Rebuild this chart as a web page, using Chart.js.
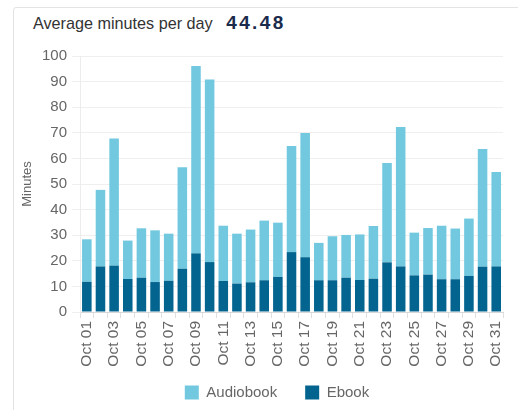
<!DOCTYPE html>
<html>
<head>
<meta charset="utf-8">
<script src="https://cdn.jsdelivr.net/npm/chart.js@4/dist/chart.umd.min.js"></script>
<style>
  html, body { margin: 0; padding: 0; background: #fff; }
  #wrap { position: relative; width: 518px; height: 410px; overflow: hidden; }
  #card { position: absolute; left: 13px; top: 7px; width: 520px; height: 420px;
    border: 1px solid #e3e3e3; border-radius: 3px; }
  #title { position: absolute; left: 33px; top: 12px; font-family: 'Liberation Sans', Arial, sans-serif;
    font-size: 16.2px; color: #333; white-space: nowrap; }
  #avg { font-family: 'Liberation Sans', Arial, sans-serif; font-weight: bold; font-size: 19px;
    letter-spacing: 2.4px; color: #1b2b4b; margin-left: 9px; }
  canvas { position: absolute; left: 0; top: 0; }
</style>
</head>
<body>
<div id="wrap">
  <div id="card"></div>
  <div id="title">Average minutes per day <span id="avg">44.48</span></div>
  <canvas id="myChart" width="518" height="410"></canvas>
</div>
<script>
'use strict';

// Data
let days = ['Oct 01', 'Oct 02', 'Oct 03', 'Oct 04', 'Oct 05', 'Oct 06', 'Oct 07', 'Oct 08',
  'Oct 09', 'Oct 10', 'Oct 11', 'Oct 12', 'Oct 13', 'Oct 14', 'Oct 15', 'Oct 16',
  'Oct 17', 'Oct 18', 'Oct 19', 'Oct 20', 'Oct 21', 'Oct 22', 'Oct 23', 'Oct 24',
  'Oct 25', 'Oct 26', 'Oct 27', 'Oct 28', 'Oct 29', 'Oct 30', 'Oct 31'];
let ebookMinutes = [11.8, 17.8, 18.1, 12.9, 13.4, 11.7, 12.2, 16.9, 22.9, 19.5, 12.1, 11.1,
  11.6, 12.4, 13.7, 23.4, 21.4, 12.4, 12.4, 13.4, 12.5, 13.0, 19.4, 17.8, 14.3, 14.6,
  12.8, 12.8, 14.1, 17.7, 17.8];
let audiobookMinutes = [16.6, 29.9, 49.7, 15.0, 19.3, 20.2, 18.4, 39.6, 73.2, 71.3, 21.6, 19.5,
  20.6, 23.3, 21.2, 41.4, 48.5, 14.6, 17.2, 16.7, 17.8, 20.6, 38.8, 54.5, 16.7, 18.2,
  20.9, 19.8, 22.4, 46.0, 36.9];
let yTicks = [0, 10, 20, 30, 40, 50, 60, 70, 80, 90, 100];

let audioColor = '#72c9df';
let ebookColor = '#03648f';
let fontFamily = "'Liberation Sans', Arial, sans-serif";

// move the legend right and up a bit, like the original
let legendShift = {
  id: 'legendShift',
  afterLayout(chart) {
    let lg = chart.legend;
    if (lg) {
      lg.left += 17;
      lg.right += 17;
      lg.top -= 19;
      lg.bottom -= 19;
    }
  }
};

function chart() {
  let ctx = document.getElementById('myChart');
  // eslint-disable-next-line no-undef
  let myChart = new Chart(ctx, {
    type: 'bar',
    data: {
      labels: days,
      datasets: [{
        label: 'Ebook',
        data: ebookMinutes,
        backgroundColor: ebookColor,
        borderWidth: 0
      }, {
        label: 'Audiobook',
        data: audiobookMinutes,
        backgroundColor: audioColor,
        borderWidth: 0
      }]
    },
    options: {
      responsive: false,
      animation: false,
      layout: { padding: { left: 14, right: 12, top: 56, bottom: -19 } },
      datasets: { bar: { categoryPercentage: 1, barPercentage: 0.7 } },
      plugins: {
        tooltip: { enabled: false },
        legend: {
          position: 'bottom',
          reverse: true,
          labels: {
            boxWidth: 14,
            boxHeight: 14,
            padding: 28,
            color: '#666',
            font: { family: fontFamily, size: 15 }
          }
        }
      },
      scales: {
        x: {
          stacked: true,
          afterFit(scale) { scale.height = 64; },
          border: { color: '#d8d8d8' },
          grid: { offset: true, drawOnChartArea: false, tickLength: 6, color: '#e0e0e0' },
          ticks: {
            autoSkip: false,
            maxRotation: 90,
            minRotation: 90,
            padding: 3,
            color: '#666',
            font: { family: fontFamily, size: 15.5 },
            callback(value, index) {
              return index % 2 === 0 ? days[index] : '';
            }
          }
        },
        y: {
          stacked: true,
          min: 0,
          max: 100,
          afterFit(scale) { scale.width = 66; },
          afterBuildTicks(scale) {
            scale.ticks = yTicks.map(v => ({ value: v }));
          },
          border: { color: '#ececec' },
          grid: { color: '#efefef', tickLength: 8 },
          ticks: {
            padding: 5,
            color: '#666',
            font: { family: fontFamily, size: 15 }
          },
          title: {
            display: true,
            text: 'Minutes',
            color: '#666',
            padding: { top: 6, bottom: 0 },
            font: { family: fontFamily, size: 13 }
          }
        }
      }
    },
    plugins: [legendShift]
  });
}
chart();
</script>
</body>
</html>
